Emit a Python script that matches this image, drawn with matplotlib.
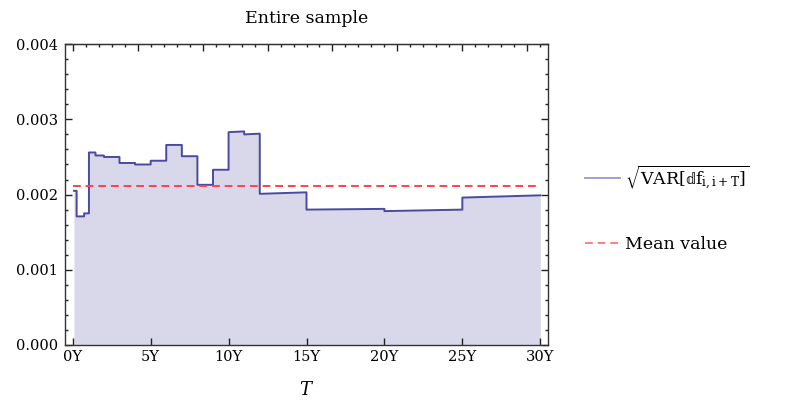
import numpy as np
import matplotlib.pyplot as plt
from matplotlib.ticker import MultipleLocator, FixedLocator, NullFormatter

plt.rcParams['font.family'] = ['DejaVu Serif']
plt.rcParams['mathtext.fontset'] = 'dejavuserif'

# step segments (tenor in years)
seg_start = [0.08, 0.25, 0.73, 1.04, 1.46, 2.0, 3.0, 4.0, 5.0, 6.0, 7.0, 8.0, 9.0, 10.0, 11.0, 12.0, 15.0, 20.0, 25.0]
seg_end = [0.25, 0.73, 1.04, 1.46, 2.0, 3.0, 4.0, 5.0, 6.0, 7.0, 8.0, 9.0, 10.0, 11.0, 12.0, 15.0, 20.0, 25.0, 30.0]
val_start = [0.00205, 0.00171, 0.00175, 0.00256, 0.00252, 0.00250, 0.00242, 0.00240, 0.00245, 0.00266, 0.00251,
             0.00213, 0.00233, 0.00283, 0.00280, 0.00201, 0.00180, 0.00178, 0.00196]
val_end = [0.00205, 0.00171, 0.00175, 0.00256, 0.00252, 0.00250, 0.00242, 0.00240, 0.00245, 0.00266, 0.00251,
           0.00213, 0.00233, 0.00284, 0.00281, 0.00203, 0.00181, 0.00180, 0.00199]
mean_value = 0.00211

xs = np.ravel(np.column_stack([seg_start, seg_end]))
ys = np.ravel(np.column_stack([val_start, val_end]))

fig = plt.figure(figsize=(7.92, 4.09), dpi=100)
ax = fig.add_axes([0.082, 0.1565, 0.61, 0.7355])

ax.fill_between(xs, 0, ys, color='#d8d8ea', linewidth=0)
ax.plot(xs, ys, color='#4a4a9e', linewidth=1.4, label=r'$\sqrt{\mathrm{VAR}[ⅆ\mathrm{f}_{\mathrm{i,i+T}}]}$')
ax.plot([0, 30], [mean_value, mean_value], color='#ff4444', linewidth=1.4,
        dashes=(4, 2.5), label='Mean value')

ax.set_xlim(-0.5, 30.5)
ax.set_ylim(0, 0.004)

ax.set_xticks(np.arange(0, 31, 5))
ax.set_xticklabels([f'{v}Y' for v in range(0, 31, 5)])
ax.yaxis.set_major_locator(MultipleLocator(0.001))
ax.yaxis.set_minor_locator(MultipleLocator(0.0002))
ax.yaxis.set_major_formatter(plt.FuncFormatter(lambda v, p: f'{v:.3f}'))
ax.tick_params(axis='both', which='both', direction='in', labelsize=10.5, color='#222222')
ax.tick_params(axis='y', which='both', right=True, pad=5)
ax.tick_params(which='major', length=5, width=1)
ax.tick_params(which='minor', length=2.5, width=1)

# top axis: ticks every 50 months, minor every 10 months, no labels
top = ax.secondary_xaxis('top')
top.xaxis.set_major_locator(FixedLocator(np.arange(0, 31, 50 / 12)))
top.xaxis.set_minor_locator(FixedLocator(np.arange(0, 31, 10 / 12)))
top.xaxis.set_major_formatter(NullFormatter())
top.tick_params(which='both', direction='in', color='#222222')
top.tick_params(which='major', length=5, width=1)
top.tick_params(which='minor', length=2.5, width=1)

for s in ax.spines.values():
    s.set_color('#333333')
    s.set_linewidth(1)
top.spines['top'].set_color('#333333')

ax.set_title('Entire sample', fontsize=12.5, pad=15)
ax.set_xlabel('$T$', fontsize=13, labelpad=12)

leg = ax.legend(loc='center left', bbox_to_anchor=(1.045, 0.455), frameon=False, fontsize=12.5,
                handlelength=2.0, labelspacing=2.6, handletextpad=0.3)
leg.get_lines()[0].set_color('#a0a0d2')
leg.get_lines()[1].set_color('#ff8080')

fig.savefig('out.png', dpi=100)
